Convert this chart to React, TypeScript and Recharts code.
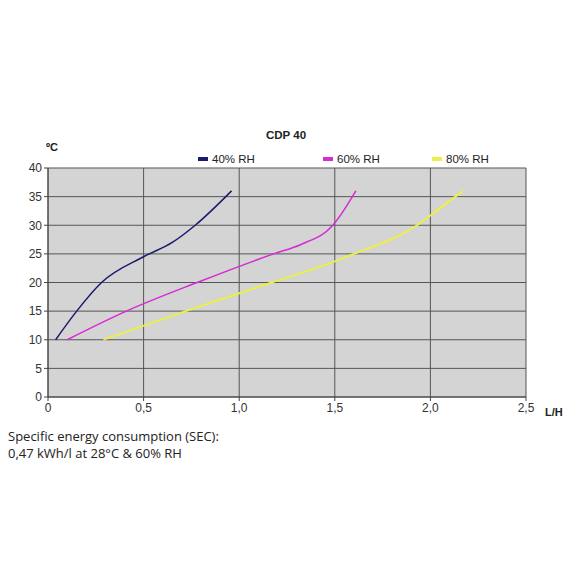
import { LineChart, Line, XAxis, YAxis, CartesianGrid, Legend } from "recharts";

const X_TICKS = [0, 0.5, 1, 1.5, 2, 2.5];
const Y_TICKS = [0, 5, 10, 15, 20, 25, 30, 35, 40];

// flow rate (L/H) vs temperature (°C) per relative humidity
const RH40 = [
  { x: 0.04, y: 10 },
  { x: 0.15, y: 15 },
  { x: 0.28, y: 20 },
  { x: 0.5, y: 24.5 },
  { x: 0.65, y: 27 },
  { x: 0.77, y: 30 },
  { x: 0.96, y: 36 },
];
const RH60 = [
  { x: 0.1, y: 10 },
  { x: 0.41, y: 15 },
  { x: 0.78, y: 20 },
  { x: 1.18, y: 25 },
  { x: 1.32, y: 26.6 },
  { x: 1.49, y: 30 },
  { x: 1.61, y: 36 },
];
const RH80 = [
  { x: 0.29, y: 10 },
  { x: 0.72, y: 15 },
  { x: 1.17, y: 20 },
  { x: 1.5, y: 23.7 },
  { x: 1.6, y: 25 },
  { x: 1.93, y: 30 },
  { x: 2.0, y: 31.7 },
  { x: 2.17, y: 36 },
];

const SERIES = [
  { name: "40% RH", data: RH40, color: "#1a1a6e", width: 1.5 },
  { name: "60% RH", data: RH60, color: "#d62ad6", width: 1.5 },
  { name: "80% RH", data: RH80, color: "#eeee4a", width: 2 },
];

const fmt = (v: number) => (v === 0 ? "0" : v.toFixed(1).replace(".", ","));

function LegendRow() {
  const lefts = [198, 323, 432];
  return (
    <div style={{ position: "absolute", left: 0, top: 153, width: 570, height: 16 }}>
      {SERIES.map((s, i) => (
        <div
          key={s.name}
          style={{
            position: "absolute",
            left: lefts[i],
            top: 0,
            display: "flex",
            alignItems: "center",
            fontFamily: "Liberation Sans, Arial, sans-serif",
            fontSize: 11.5,
            color: "#222",
          }}
        >
          <span style={{ width: 10, height: 4, background: s.color, marginRight: 4 }} />
          {s.name}
        </div>
      ))}
    </div>
  );
}

export default function App() {
  const label = { fontFamily: "Liberation Sans, Arial, sans-serif", fontSize: 12, fill: "#333" };
  return (
    <div style={{ position: "absolute", left: 0, top: 0, width: 570, height: 570, background: "#fff" }}>
      <LineChart
        width={570}
        height={430}
        margin={{ top: 168, right: 44, bottom: 3, left: 8 }}
      >
        <CartesianGrid stroke="#555" strokeWidth={1} fill="#d4d4d4" />
        <XAxis
          type="number"
          dataKey="x"
          domain={[0, 2.5]}
          ticks={X_TICKS}
          tickFormatter={fmt}
          stroke="#444"
          tick={label}
          tickSize={4}
          height={30}
          allowDuplicatedCategory={false}
        />
        <YAxis
          type="number"
          dataKey="y"
          domain={[0, 40]}
          ticks={Y_TICKS}
          stroke="#444"
          tick={label}
          tickSize={4}
          width={40}
        />
        <Legend content={() => null} />
        {SERIES.map((s) => (
          <Line
            key={s.name}
            data={s.data}
            dataKey="y"
            name={s.name}
            type="monotone"
            stroke={s.color}
            strokeWidth={s.width}
            dot={false}
            isAnimationActive={false}
          />
        ))}
      </LineChart>
      <div
        style={{
          position: "absolute",
          left: 266,
          top: 129,
          fontFamily: "Liberation Sans, Arial, sans-serif",
          fontWeight: "bold",
          fontSize: 11.5,
          color: "#222",
        }}
      >
        CDP 40
      </div>
      <div
        style={{
          position: "absolute",
          left: 46,
          top: 141,
          fontFamily: "Liberation Sans, Arial, sans-serif",
          fontWeight: "bold",
          fontSize: 11,
          color: "#222",
        }}
      >
        ºC
      </div>
      <div
        style={{
          position: "absolute",
          left: 545,
          top: 406,
          fontFamily: "Liberation Sans, Arial, sans-serif",
          fontWeight: "bold",
          fontSize: 11,
          color: "#222",
        }}
      >
        L/H
      </div>
      <LegendRow />
      <div
        style={{
          position: "absolute",
          left: 8,
          top: 428,
          fontFamily: "Open Sans, sans-serif",
          fontSize: 13,
          lineHeight: "17px",
          color: "#222",
        }}
      >
        Specific energy consumption (SEC):
        <br />
        0,47 kWh/l at 28°C &amp; 60% RH
      </div>
    </div>
  );
}
